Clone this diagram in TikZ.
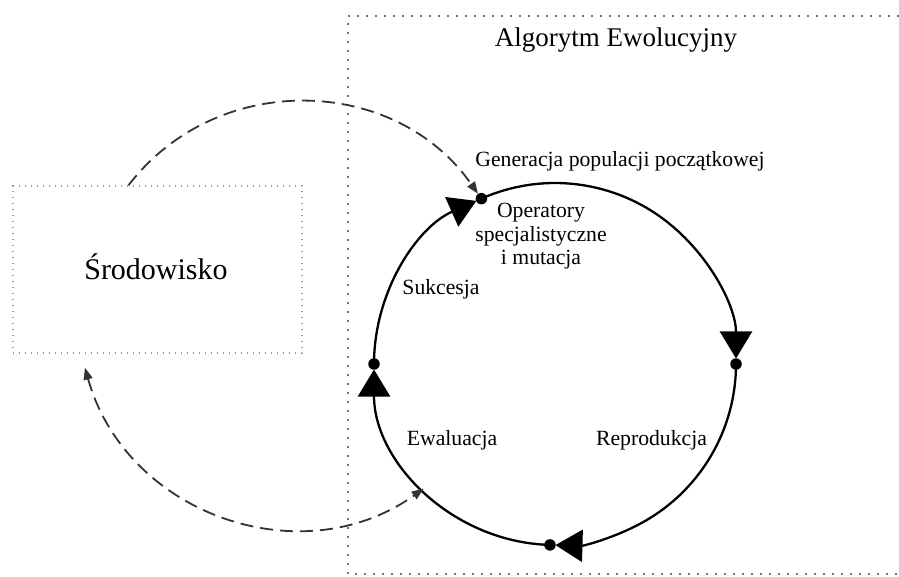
\documentclass[tikz,border=0pt]{standalone}
\usepackage{fontspec}
\setmainfont{Liberation Serif}
\usetikzlibrary{arrows.meta,calc}
\begin{document}
\begin{tikzpicture}[x=1pt,y=1pt,
  framedots/.style={draw=black!55, line width=1.8pt, dash pattern=on 1.8pt off 7.2pt},
  boxdots/.style={draw=black!40, line width=1.3pt, dash pattern=on 1.3pt off 4.7pt},
  cyclearc/.style={line width=2.3pt, -{Triangle[length=27pt,width=32pt]}, shorten >=5.5pt},
  junction/.style={circle, fill=black, inner sep=0pt, minimum size=11.5pt},
  exchange/.style={draw=black!80, line width=1.8pt, dash pattern=on 13pt off 7pt},
  lbl/.style={font=\fontsize{21.7}{23.5}\selectfont, align=center}
]
\useasboundingbox (0,0) rectangle (899,576);

% frame of the algorithm (open on the right)
\draw[framedots] (899,560) -- (348,560) -- (348,2) -- (899,2);
\node[font=\fontsize{27}{32}\selectfont, anchor=base] (title) at (616,529) {Algorytm Ewolucyjny};

% environment box
\node[boxdots, minimum width=289pt, minimum height=167pt, inner sep=0pt] (env) at (157.5,306.5) {};
\node[font=\fontsize{30}{36}\selectfont, anchor=base] (envlabel) at (156,296) {Środowisko};

% main cycle
\coordinate (c) at (555,212);
\node[junction] (dT) at ($(c)+(114:181)$) {};
\node[junction] (dR) at ($(c)+(0:181)$) {};
\node[junction] (dB) at ($(c)+(268.4:181)$) {};
\node[junction] (dL) at ($(c)+(180:181)$) {};
\coordinate (evalpt) at ($(c)+(223.5:181)$);

\draw[cyclearc] (dT.center) arc[start angle=114, end angle=0, radius=181];
\draw[cyclearc] (dR.center) arc[start angle=0, end angle=-91.6, radius=181];
\draw[cyclearc] (dB.center) arc[start angle=268.4, end angle=180, radius=181];
\draw[cyclearc] (dL.center) arc[start angle=180, end angle=114, radius=181];

% labels of the stages
\node[lbl, anchor=base] (gen) at (620,409) {Generacja populacji początkowej};
\node[lbl] (ops) at (541,339.6) {Operatory\\specjalistyczne\\i mutacja};
\node[lbl, anchor=base] (succ) at (441,281) {Sukcesja};
\node[lbl, anchor=base] (evalu) at (452,131) {Ewaluacja};
\node[lbl, anchor=base] (repro) at (651.5,131) {Reprodukcja};

% exchange with the environment
\draw[exchange, -{Triangle[length=12pt,width=9pt]}]
  ($(env.north west)!0.4!(env.north east)$) .. controls (217,506) and (395,501) .. (dT);
\draw[exchange, {Triangle[length=12pt,width=9pt]}-{Triangle[length=12pt,width=9pt]}]
  ($(env.south west)!0.25!(env.south east)+(0,-14)$) .. controls (126,62) and (301,0) .. (evalpt);
\end{tikzpicture}
\end{document}
